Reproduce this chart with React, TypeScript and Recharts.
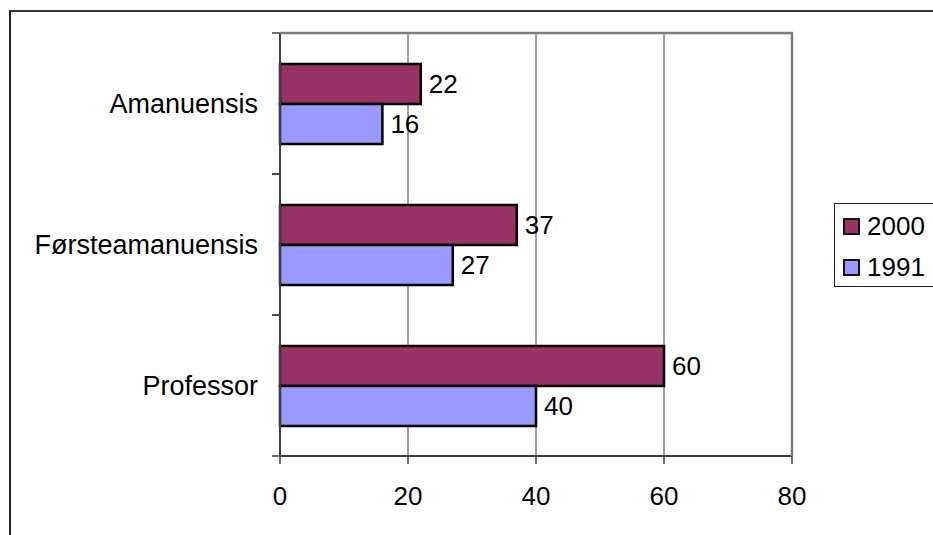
import React from 'react';
import { BarChart, Bar, XAxis, YAxis, CartesianGrid, LabelList } from 'recharts';

const categories = ['Amanuensis', 'Førsteamanuensis', 'Professor'];
const values2000 = [22, 37, 60];
const values1991 = [16, 27, 40];
const xTicks = [0, 20, 40, 60, 80];

const series = [
  { key: 'y2000', name: '2000', color: '#993366' },
  { key: 'y1991', name: '1991', color: '#9999FF' },
];

const data = categories.map((name, i) => ({ name, y2000: values2000[i], y1991: values1991[i] }));

const W = 933;
const H = 535;
const FONT = '"Liberation Sans", Arial, sans-serif';
const AXIS_X = 280;
const RIGHT_X = 792;
const TOP = 33;
const BOTTOM = 79;
const PLOT_BOTTOM = H - BOTTOM;
const BAND = (H - TOP - BOTTOM) / categories.length;

// category label centred on the band, tick marks on the band edges
const CategoryTick = (props: any) => {
  const { y, payload } = props;
  return (
    <g>
      <text x={AXIS_X - 22} y={y} dy="0.36em" textAnchor="end" fontSize={27} fill="#000" fontFamily={FONT}>
        {payload.value}
      </text>
      <line x1={AXIS_X - 8} x2={AXIS_X} y1={y - BAND / 2} y2={y - BAND / 2} stroke="#404040" strokeWidth={1.5} />
      <line x1={AXIS_X - 8} x2={AXIS_X} y1={y + BAND / 2} y2={y + BAND / 2} stroke="#404040" strokeWidth={1.5} />
    </g>
  );
};

const LegendBox = () => (
  <div
    style={{
      position: 'absolute',
      left: 834,
      top: 203,
      width: 120,
      height: 82,
      border: '1.5px solid #222',
      background: '#fff',
      fontFamily: FONT,
      fontSize: 26,
    }}
  >
    {series.map((s, i) => (
      <div key={s.key} style={{ position: 'absolute', left: 8, top: 13 + i * 41, display: 'flex', alignItems: 'center', height: 19 }}>
        <span style={{ width: 13, height: 13, background: s.color, border: '2px solid #111', display: 'inline-block' }} />
        <span style={{ marginLeft: 7, lineHeight: '19px', color: '#000' }}>{s.name}</span>
      </div>
    ))}
  </div>
);

export default function App() {
  return (
    <div style={{ position: 'absolute', left: 0, top: 0, width: W, height: H, overflow: 'hidden', background: '#fff', fontFamily: FONT }}>
      <BarChart
        width={W}
        height={H}
        data={data}
        layout="vertical"
        margin={{ top: TOP, right: W - RIGHT_X, left: 0, bottom: BOTTOM - 50 }}
        barGap={0}
        barSize={40}
        style={{ position: 'absolute', left: 0, top: 0 }}
      >
        <CartesianGrid horizontal={false} stroke="#404040" strokeWidth={1} />
        <XAxis
          type="number"
          domain={[0, 80]}
          ticks={xTicks}
          height={50}
          tickSize={8}
          tickMargin={23}
          axisLine={{ stroke: '#404040', strokeWidth: 2 }}
          tickLine={{ stroke: '#404040', strokeWidth: 1.5 }}
          tick={{ fontSize: 26, fill: '#000', fontFamily: FONT }}
        />
        <YAxis type="category" dataKey="name" width={AXIS_X} tickLine={false} tick={<CategoryTick />} axisLine={{ stroke: '#404040', strokeWidth: 2 }} />
        {series.map((s) => (
          <Bar key={s.key} dataKey={s.key} name={s.name} fill={s.color} stroke="#000" strokeWidth={2.5} isAnimationActive={false}>
            <LabelList dataKey={s.key} position="right" offset={8} fontSize={26} fill="#000" fontFamily={FONT} />
          </Bar>
        ))}
      </BarChart>
      {/* outer chart frame and the top/right edges of the plot frame */}
      <svg width={W} height={H} style={{ position: 'absolute', left: 0, top: 0, zIndex: 5, pointerEvents: 'none' }}>
        <line x1={10} y1={H} x2={10} y2={10} stroke="#222" strokeWidth={2} />
        <line x1={9} y1={11} x2={W} y2={11} stroke="#333" strokeWidth={2} />
        <line x1={AXIS_X} y1={TOP} x2={RIGHT_X + 1} y2={TOP} stroke="#7a7a7a" strokeWidth={2.5} />
        <line x1={RIGHT_X} y1={TOP} x2={RIGHT_X} y2={PLOT_BOTTOM} stroke="#7a7a7a" strokeWidth={2.5} />
      </svg>
      <div style={{ position: 'absolute', left: 0, top: 0, zIndex: 6 }}>
        <LegendBox />
      </div>
    </div>
  );
}
